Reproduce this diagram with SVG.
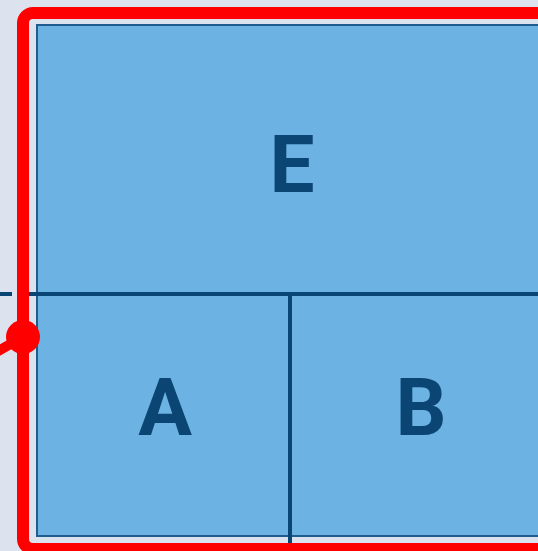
<svg xmlns="http://www.w3.org/2000/svg" width="538" height="551" viewBox="0 0 538 551">
  <style>
    .cell { fill: #6cb3e3; stroke: #1f5d8e; stroke-width: 2; }
    .div { stroke: #0a4675; stroke-width: 4; fill: none; }
    .lbl { font-family: Roboto, "Liberation Sans", sans-serif; font-weight: 700; font-size: 80px; fill: #0b4574; text-anchor: middle; }
    .sel { fill: none; stroke: #ff0000; stroke-width: 12; }
  </style>
  <rect x="0" y="0" width="538" height="551" fill="#dde3ee"/>
  <g id="frame">
    <rect class="cell" x="37" y="25" width="520" height="511"/>
  </g>
  <g id="connectors">
    <line class="div" x1="0" y1="294" x2="12" y2="294"/>
    <line class="div" x1="29" y1="294" x2="560" y2="294"/>
    <line class="div" x1="290" y1="294" x2="290" y2="560"/>
  </g>
  <g id="E">
    <text class="lbl" x="292" y="192">E</text>
  </g>
  <g id="A">
    <text class="lbl" x="165" y="435">A</text>
  </g>
  <g id="B">
    <text class="lbl" x="421" y="435">B</text>
  </g>
  <g id="selection">
    <rect class="sel" x="23" y="13" width="560" height="536" rx="10" ry="10"/>
    <line x1="23" y1="337" x2="-30" y2="367" stroke="#ff0000" stroke-width="10"/>
    <circle cx="23" cy="337" r="17" fill="#ff0000"/>
  </g>
</svg>
